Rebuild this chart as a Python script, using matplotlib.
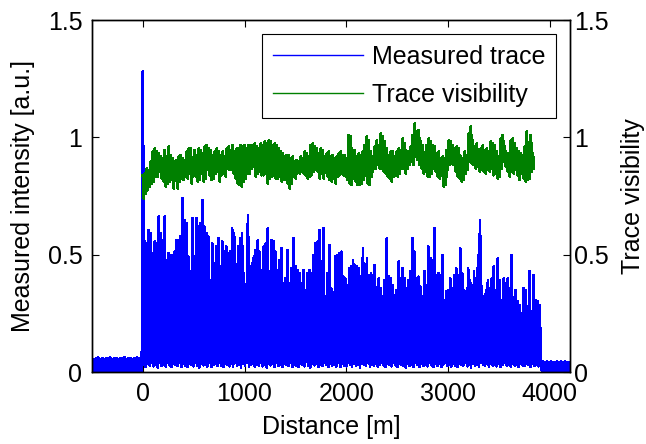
import numpy as np
import matplotlib
matplotlib.use("Agg")
import matplotlib.pyplot as plt

plt.rcParams['font.family'] = ['Liberation Sans', 'DejaVu Sans']

# measured trace
# before the fibre start (-500 .. 0 m): peaks / lows
pre_peaks = [0.060, 0.055, 0.058, 0.062, 0.056, 0.059, 0.054, 0.060, 0.057, 0.061,
             0.055, 0.058, 0.060, 0.056, 0.059, 0.057, 0.062, 0.055, 0.058, 0.060,
             0.056, 0.059, 0.061, 0.057, 0.060]
pre_lows = [0.000] * 25

# fibre part (0 .. 3900 m): upper envelope, first value is the front reflection
trace_peaks = [1.28,
    0.555, 0.548, 0.605, 0.591, 0.506, 0.555, 0.548, 0.662, 0.591, 0.562,
    0.662, 0.477, 0.506, 0.498, 0.498, 0.512, 0.562, 0.562, 0.577, 0.740,
    0.648, 0.634, 0.491, 0.428, 0.655, 0.491, 0.655, 0.619, 0.634, 0.733,
    0.619, 0.591, 0.577, 0.392, 0.548, 0.463, 0.534, 0.570, 0.449, 0.555,
    0.512, 0.534, 0.506, 0.512, 0.612, 0.591, 0.406, 0.534, 0.570, 0.591,
    0.420,
    0.371, 0.669, 0.442, 0.463, 0.491, 0.520, 0.562, 0.512, 0.435, 0.534,
    0.548, 0.612, 0.428, 0.562, 0.555, 0.512, 0.435, 0.477, 0.527, 0.378,
    0.399, 0.520, 0.378, 0.442, 0.569, 0.449, 0.435, 0.420, 0.378, 0.435,
    0.349, 0.420, 0.435, 0.420, 0.498, 0.548, 0.555, 0.605, 0.470, 0.612,
    0.321, 0.420, 0.541, 0.356, 0.328, 0.491, 0.498, 0.506, 0.512, 0.406,
    0.399,
    0.371, 0.442, 0.449, 0.477, 0.456, 0.449, 0.442, 0.406, 0.527, 0.435,
    0.484, 0.371, 0.420, 0.413, 0.456, 0.328, 0.399, 0.356, 0.321, 0.392,
    0.569, 0.406, 0.399, 0.371, 0.328, 0.349, 0.470, 0.399, 0.442, 0.399,
    0.356, 0.392, 0.428, 0.569, 0.512, 0.399, 0.406, 0.363, 0.321, 0.428,
    0.371, 0.534, 0.484, 0.477, 0.612, 0.413, 0.420, 0.413, 0.498, 0.307,
    0.342,
    0.349, 0.399, 0.356, 0.413, 0.442, 0.413, 0.527, 0.420, 0.349, 0.307,
    0.442, 0.392, 0.349, 0.428, 0.371, 0.498, 0.648, 0.363, 0.321, 0.349,
    0.392, 0.356, 0.399, 0.449, 0.278, 0.484, 0.392, 0.307, 0.399, 0.378,
    0.399, 0.356, 0.498, 0.314, 0.349, 0.300, 0.285, 0.250, 0.356, 0.349,
    0.278, 0.428, 0.257, 0.413, 0.307, 0.300, 0.285]

trace_lows = [
    0.030, 0.022, 0.035, 0.028, 0.040, 0.025, 0.032, 0.020, 0.038, 0.027,
    0.033, 0.024, 0.041, 0.029, 0.022, 0.036, 0.030, 0.026, 0.039, 0.021,
    0.034, 0.028, 0.023, 0.037, 0.031, 0.025, 0.042, 0.027, 0.020, 0.035,
    0.029, 0.033, 0.024, 0.038, 0.022, 0.030, 0.036, 0.026, 0.040, 0.028,
    0.021, 0.034, 0.031, 0.025, 0.037, 0.023, 0.039, 0.029, 0.032, 0.020,
    0.035, 0.027, 0.041, 0.024, 0.030, 0.036, 0.022, 0.033, 0.028, 0.038,
    0.025, 0.031, 0.020, 0.037, 0.029, 0.034, 0.023, 0.040, 0.027, 0.032,
    0.021, 0.036, 0.030, 0.026, 0.039, 0.024, 0.033, 0.028, 0.022, 0.035,
    0.031, 0.025, 0.045, 0.027, 0.020, 0.034, 0.029, 0.037, 0.023, 0.032,
    0.026, 0.040, 0.030, 0.022, 0.036, 0.028, 0.033, 0.024, 0.038, 0.021,
    0.034, 0.029, 0.025, 0.041, 0.031, 0.023, 0.036, 0.027, 0.032, 0.020,
    0.037, 0.030, 0.026, 0.039, 0.022, 0.033, 0.028, 0.035, 0.024, 0.031,
    0.040, 0.027, 0.021, 0.034, 0.030, 0.025, 0.038, 0.029, 0.023, 0.036,
    0.032, 0.026, 0.020, 0.037, 0.028, 0.033, 0.024, 0.039, 0.030, 0.022,
    0.035, 0.027, 0.031, 0.025, 0.041, 0.029, 0.023, 0.034, 0.028, 0.036,
    0.021, 0.032, 0.038, 0.026, 0.030, 0.024, 0.035, 0.029, 0.022, 0.037,
    0.031, 0.027, 0.040, 0.025, 0.033, 0.020, 0.036, 0.028, 0.032, 0.024,
    0.039, 0.030, 0.026, 0.034, 0.022, 0.037, 0.029, 0.031, 0.025, 0.035,
    0.021, 0.033, 0.038, 0.027, 0.030, 0.024, 0.036, 0.028, 0.032, 0.022,
    0.034, 0.029, 0.026, 0.037, 0.031, 0.023, 0.035, 0.027, 0.030, 0.025]

# after the fibre end (3920 .. 4200 m)
post_peaks = [0.042, 0.045, 0.040, 0.044, 0.041, 0.046, 0.043, 0.040, 0.045, 0.042,
              0.044, 0.041, 0.046, 0.043, 0.042]
post_lows = [0.000] * 15

# trace visibility (0 .. 3845 m): upper and lower edge of the noisy band
vis_upper = [
    0.839, 0.846, 0.868, 0.861, 0.896, 0.939, 0.953, 0.939, 0.932, 0.917,
    0.910, 0.946, 0.917, 0.960, 0.925, 0.910, 0.896, 0.903, 0.917, 0.925,
    0.910, 0.903, 0.939, 0.953, 0.953, 0.910, 0.946, 0.925, 0.953, 0.946,
    0.932, 0.960, 0.967, 0.953, 0.946, 0.925, 0.939, 0.953, 0.939, 0.925,
    0.939, 0.917, 0.953, 0.960, 0.946, 0.967, 0.939, 0.953, 0.953, 0.967,
    0.960, 0.967, 0.953, 0.967, 0.967, 0.967, 0.974, 0.960, 0.953, 0.974,
    0.967, 0.981, 0.974, 0.988, 0.981, 0.967, 0.974, 0.967, 0.953, 0.939,
    0.932, 0.917, 0.925, 0.925, 0.910, 0.917, 0.896, 0.903, 0.896, 0.917,
    0.910, 0.939, 0.932, 0.917, 0.967, 0.974, 0.960, 0.953, 0.932, 0.953,
    0.946, 0.917, 0.932, 0.939, 0.917, 0.925, 0.910, 0.917, 0.932, 0.939,
    0.925,
    0.925, 0.910, 1.010, 1.003, 0.939, 0.946, 0.917, 0.932, 0.925, 0.939,
    0.967, 1.003, 0.988, 0.939, 0.917, 0.960, 0.988, 0.967, 1.017, 1.003,
    0.981, 0.953, 0.925, 0.939, 0.939, 0.917, 0.939, 0.953, 0.946, 0.996,
    0.974, 0.939, 0.939, 0.960, 1.010, 1.059, 1.024, 1.031, 0.981, 0.967,
    0.932, 0.967, 0.996, 0.981, 0.967, 0.960, 0.932, 0.939, 0.910, 0.917,
    0.910, 0.946, 0.988, 0.981, 0.967, 0.953, 0.960, 0.953, 0.917, 0.910,
    0.939, 0.925, 1.017, 1.045, 0.988, 0.960, 0.974, 0.939, 0.953, 0.967,
    0.946, 0.953, 0.939, 0.981, 0.974, 0.967, 0.939, 0.917, 0.996, 1.010,
    0.960, 0.932, 0.932, 0.988, 0.996, 0.974, 0.953, 0.939, 0.932, 0.925,
    0.960, 1.024, 0.960, 1.010, 0.932]

vis_lower = [
    0.740, 0.761, 0.775, 0.790, 0.804, 0.811, 0.832, 0.832, 0.853, 0.825,
    0.811, 0.790, 0.804, 0.811, 0.818, 0.783, 0.832, 0.783, 0.811, 0.825,
    0.818, 0.832, 0.825, 0.846, 0.804, 0.839, 0.832, 0.811, 0.818, 0.846,
    0.811, 0.825, 0.861, 0.839, 0.818, 0.825, 0.846, 0.853, 0.811, 0.839,
    0.846, 0.832, 0.868, 0.861, 0.861, 0.846, 0.825, 0.804, 0.797, 0.790,
    0.811, 0.825, 0.846, 0.846, 0.868, 0.875, 0.832, 0.846, 0.853, 0.839,
    0.839, 0.846, 0.804, 0.825, 0.832, 0.839, 0.825, 0.825, 0.832, 0.811,
    0.818, 0.818, 0.804, 0.783, 0.804, 0.839, 0.825, 0.853, 0.846, 0.853,
    0.846, 0.839, 0.825, 0.832, 0.839, 0.853, 0.861, 0.853, 0.825, 0.846,
    0.825, 0.853, 0.832, 0.818, 0.811, 0.825, 0.804, 0.832, 0.839, 0.846,
    0.839,
    0.832, 0.818, 0.804, 0.797, 0.825, 0.811, 0.797, 0.797, 0.804, 0.818,
    0.839, 0.804, 0.797, 0.832, 0.868, 0.868, 0.882, 0.868, 0.868, 0.853,
    0.846, 0.832, 0.825, 0.811, 0.832, 0.839, 0.832, 0.846, 0.868, 0.868,
    0.846, 0.868, 0.882, 0.896, 0.882, 0.917, 0.903, 0.882, 0.868, 0.846,
    0.853, 0.832, 0.832, 0.846, 0.868, 0.853, 0.832, 0.825, 0.839, 0.790,
    0.797, 0.861, 0.882, 0.889, 0.882, 0.853, 0.832, 0.825, 0.811, 0.818,
    0.846, 0.861, 0.896, 0.889, 0.882, 0.868, 0.875, 0.853, 0.861, 0.853,
    0.846, 0.861, 0.853, 0.868, 0.839, 0.846, 0.825, 0.832, 0.868, 0.896,
    0.875, 0.853, 0.832, 0.853, 0.846, 0.861, 0.839, 0.818, 0.853, 0.825,
    0.811, 0.818, 0.825, 0.853, 0.868]

pre_start, fibre_start, fibre_end, post_end = -500, 0, 3900, 4200
vis_end = 3845


def interleave(peaks, lows, x0, x1):
    # peak, low, peak, low ... evenly spread between x0 and x1
    n = len(peaks) + len(lows)
    vals = np.empty(n)
    vals[0::2] = peaks
    vals[1::2] = lows[:n // 2]
    return np.linspace(x0, x1, n), vals


x_pre, y_pre = interleave(pre_peaks, pre_lows, pre_start, fibre_start - 10)
x_fib, y_fib = interleave(trace_peaks, trace_lows, fibre_start, fibre_end)
x_post, y_post = interleave(post_peaks, post_lows, fibre_end + 15, post_end)
x_trace = np.concatenate([x_pre, x_fib, x_post])
y_trace = np.concatenate([y_pre, y_fib, y_post])

x_vis, y_vis = interleave(vis_upper, vis_lower, fibre_start, vis_end)

fig = plt.figure(figsize=(6.46, 4.44), dpi=100)
ax = fig.add_axes([92 / 646, 72 / 444, 478 / 646, 352 / 444])
ax2 = ax.twinx()

l1, = ax.plot(x_trace, y_trace, color=(0, 0, 1), lw=1.3, antialiased=False,
              label='Measured trace')
l2, = ax2.plot(x_vis, y_vis, color=(0, 0.5, 0), lw=1.3, antialiased=False,
               label='Trace visibility')

fs = 18
for a in (ax, ax2):
    a.set_xlim(-500, 4200)
    a.set_ylim(0, 1.5)
    a.set_yticks([0, 0.5, 1, 1.5])
    a.set_yticklabels(['0', '0.5', '1', '1.5'])
    for s in a.spines.values():
        s.set_linewidth(1.0)
        s.set_color('black')

ax.set_xticks([0, 1000, 2000, 3000, 4000])
ax.tick_params(direction='in', length=5, top=True, right=False, labelsize=fs)
ax.tick_params(axis='y', pad=7)
ax.tick_params(axis='x', pad=7)
ax2.tick_params(direction='in', length=5, labelsize=fs, pad=3)

ax.set_xlabel('Distance [m]', fontsize=fs, labelpad=7)
ax.set_ylabel('Measured intensity [a.u.]', fontsize=fs, labelpad=9)
ax2.set_ylabel('Trace visibility', fontsize=fs, labelpad=9)

leg = ax2.legend(handles=[l1, l2], loc='upper right', fontsize=fs,
                 fancybox=False, framealpha=1, edgecolor='black',
                 handlelength=3.6, handletextpad=0.35, borderaxespad=0.55,
                 labelspacing=0.55, borderpad=0.45)
leg.get_frame().set_linewidth(0.8)
for h in leg.get_lines():
    h.set_linewidth(1.0)
    h.set_antialiased(True)

fig.savefig('out.png', dpi=100)
